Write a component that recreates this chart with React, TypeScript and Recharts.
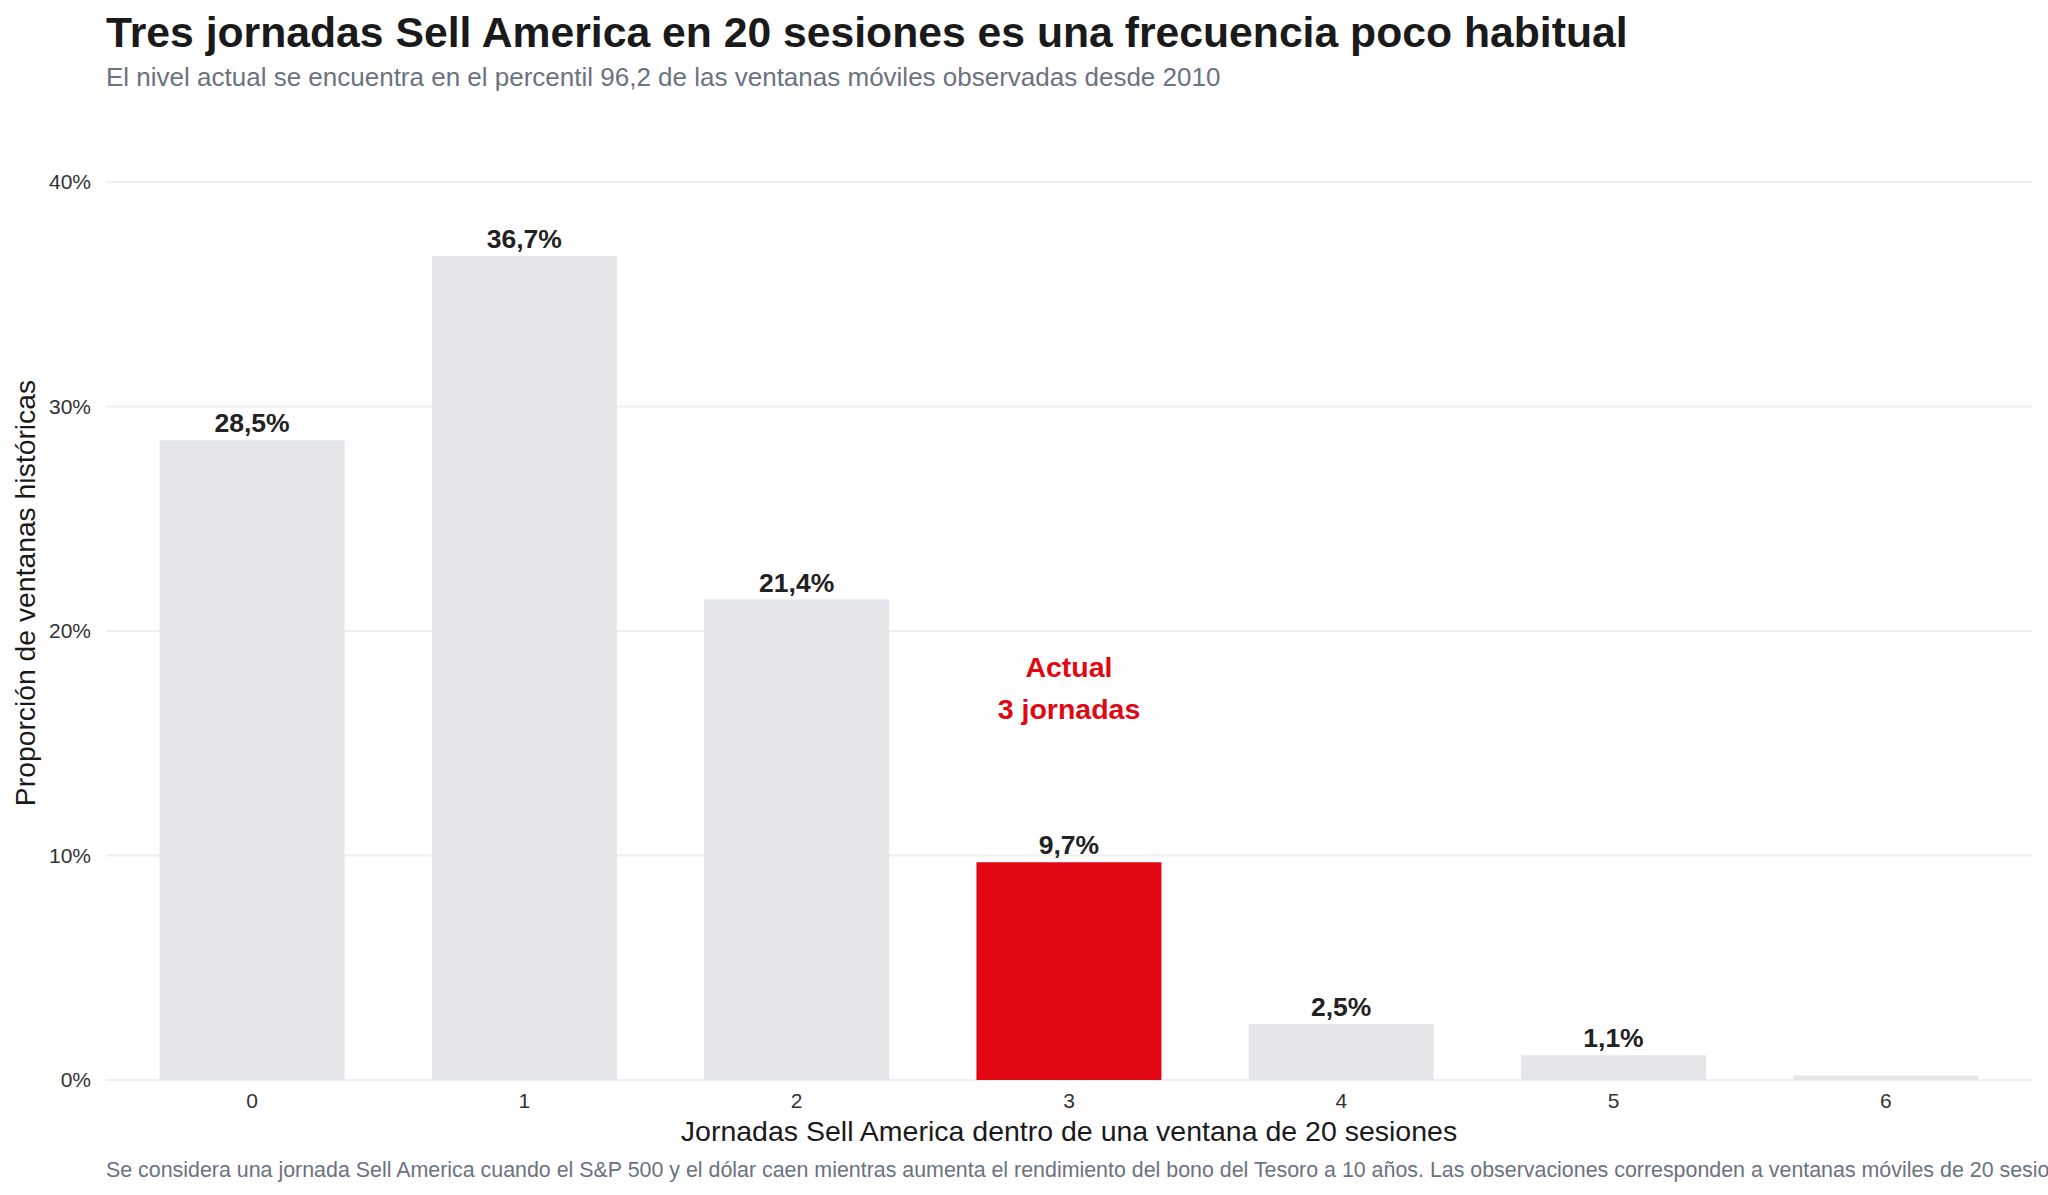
import { Bar, BarChart, CartesianGrid, Cell, LabelList, ReferenceDot, XAxis, YAxis } from "recharts";

const sessions = ["0", "1", "2", "3", "4", "5", "6"];
const shares = [28.5, 36.7, 21.4, 9.7, 2.5, 1.1, 0.2];
const currentSessions = "3";
const yTicks = [0, 10, 20, 30, 40];

const FONT = '"Liberation Sans", Arial, Helvetica, sans-serif';
const GRAY_BAR = "#e5e6ea";
const RED = "#e30613";

const rows = sessions.map((s, i) => ({
  sesiones: s,
  share: shares[i],
  label: shares[i] >= 1 ? `${shares[i].toFixed(1).replace(".", ",")}%` : "",
}));

function ActualLabel({ viewBox }: any) {
  const cx = viewBox.x + (viewBox.width || 0) / 2;
  const cy = viewBox.y + (viewBox.height || 0) / 2;
  return (
    <text x={cx} y={cy} textAnchor="middle" fill={RED} fontSize={28.5} fontWeight={700} fontFamily={FONT}>
      <tspan x={cx}>Actual</tspan>
      <tspan x={cx} dy={42}>3 jornadas</tspan>
    </text>
  );
}

export default function App() {
  return (
    <div style={{ position: "absolute", left: 0, top: 0, width: 2048, height: 1195, background: "#fff", overflow: "hidden" }}>
      <BarChart
        width={2048}
        height={1195}
        data={rows}
        margin={{ top: 182, right: 16, bottom: 0, left: 0 }}
        barCategoryGap="16%"
      >
        <CartesianGrid vertical={false} stroke="#efefef" strokeWidth={2} />
        <XAxis
          dataKey="sesiones"
          height={115}
          axisLine={false}
          tickLine={false}
          tickSize={0}
          tickMargin={13}
          padding={{ left: 10, right: 10 }}
          tick={{ fontSize: 21, fill: "#333", fontFamily: FONT }}
        />
        <YAxis
          width={106}
          domain={[0, 40]}
          ticks={yTicks}
          allowDataOverflow
          axisLine={false}
          tickLine={false}
          tickSize={0}
          tickMargin={15}
          tickFormatter={(v) => `${v}%`}
          tick={{ fontSize: 21, fill: "#333", fontFamily: FONT }}
        />
        <Bar dataKey="share" isAnimationActive={false}>
          {rows.map((r) => (
            <Cell key={r.sesiones} fill={r.sesiones === currentSessions ? RED : GRAY_BAR} />
          ))}
          <LabelList
            dataKey="label"
            position="top"
            offset={8}
            fill="#222"
            fontSize={26.5}
            fontWeight={700}
            fontFamily={FONT}
          />
        </Bar>
        <ReferenceDot x={currentSessions} y={17.95} r={0} fill="none" stroke="none" label={<ActualLabel />} />
      </BarChart>

      <svg
        width={2048}
        height={1195}
        style={{ position: "absolute", left: 0, top: 0, pointerEvents: "none" }}
        fontFamily={FONT}
      >
        <text x={106} y={47} fontSize={42.7} fontWeight={700} fill="#1a1a1a">
          Tres jornadas Sell America en 20 sesiones es una frecuencia poco habitual
        </text>
        <text x={106} y={86} fontSize={26} fill="#6b7280">
          El nivel actual se encuentra en el percentil 96,2 de las ventanas móviles observadas desde 2010
        </text>
        <text x={35} y={593} fontSize={28.3} fill="#1a1a1a" textAnchor="middle" transform="rotate(-90 35 593)">
          Proporción de ventanas históricas
        </text>
        <text x={1069} y={1141} fontSize={28.5} fill="#1a1a1a" textAnchor="middle">
          Jornadas Sell America dentro de una ventana de 20 sesiones
        </text>
        <text x={106} y={1177} fontSize={21.4} fill="#6b7280">
          Se considera una jornada Sell America cuando el S&amp;P 500 y el dólar caen mientras aumenta el rendimiento del bono del Tesoro a 10 años. Las observaciones corresponden a ventanas móviles de 20 sesiones.
        </text>
      </svg>
    </div>
  );
}
